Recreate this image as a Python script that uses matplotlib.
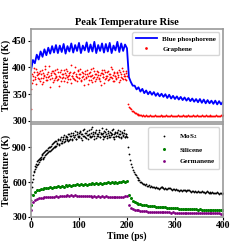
import numpy as np
import matplotlib
matplotlib.use("Agg")
import matplotlib.pyplot as plt

plt.rcParams['font.family'] = ['Liberation Serif', 'DejaVu Serif']
plt.rcParams['font.weight'] = 'bold'
plt.rcParams['axes.labelweight'] = 'bold'
plt.rcParams['mathtext.fontset'] = 'stix'

# time grids (ps)
t4 = np.arange(0, 401, 4)
t2 = np.arange(0, 401, 2)
t_odd = np.arange(1, 200, 2)

blue_phos = [395, 414, 408, 424, 415, 430, 420, 434, 423, 437,
             426, 440, 428, 442, 427, 441, 429, 444, 426, 440,
             430, 445, 428, 442, 431, 446, 427, 441, 432, 447,
             429, 443, 430, 448, 427, 442, 431, 445, 428, 444,
             430, 446, 427, 441, 432, 448, 429, 445, 431, 443,
             436,
             382, 373, 366, 366, 359, 363, 355, 360, 352, 357,
             350, 355, 349, 354, 347, 352, 346, 351, 345, 350,
             343, 349, 342, 347, 341, 346, 340, 345, 339, 344,
             338, 343, 337, 342, 336, 341, 335, 341, 334, 340,
             333, 339, 333, 338, 332, 338, 331, 337, 331, 336]

graphene = [322, 371, 384, 392, 378, 397, 386, 381, 390, 375,
            388, 395, 380, 372, 386, 402, 383, 377, 391, 385,
            364, 389, 380, 394, 376, 387, 383, 398, 379, 385,
            391, 374, 388, 382, 395, 380, 386, 373, 393, 384,
            389, 378, 405, 385, 381, 392, 376, 387, 383, 396,
            380, 388, 374, 391, 385, 379, 394, 382, 387, 370,
            390, 384, 398, 377, 386, 381, 393, 375, 388, 383,
            391, 379, 386, 367, 389, 382, 395, 378, 385, 391,
            376, 388, 383, 400, 380, 386, 374, 392, 384, 379,
            389, 382, 395, 377, 387, 381, 393, 385, 378, 390,
            384,
            331, 327, 324, 322, 319, 318, 316, 315, 314, 313,
            313, 312, 311, 312, 311, 310, 311, 310, 309, 311,
            310, 309, 310, 311, 309, 310, 309, 310, 311, 309,
            310, 309, 310, 309, 311, 310, 309, 310, 309, 310,
            311, 309, 310, 309, 310, 311, 309, 310, 309, 310,
            309, 310, 311, 309, 310, 309, 310, 311, 309, 310,
            310, 309, 310, 311, 309, 310, 309, 310, 311, 309,
            310, 309, 311, 310, 309, 310, 309, 311, 310, 309,
            310, 311, 309, 310, 309, 310, 311, 309, 310, 310,
            309, 310, 311, 309, 310, 309, 310, 311, 310, 311]

# extra graphene samples between the even time steps (t = 1, 3, ..., 199)
graphene_odd = [360, 388, 376, 399, 383, 370, 392, 387, 379, 394,
                381, 369, 390, 384, 397, 376, 388, 382, 403, 379,
                386, 393, 372, 389, 381, 396, 385, 377, 391, 366,
                383, 395, 380, 387, 374, 390, 398, 382, 378, 386,
                392, 371, 384, 389, 379, 401, 385, 375, 393, 381,
                387, 397, 376, 383, 390, 368, 388, 380, 395, 384,
                377, 391, 385, 372, 399, 382, 387, 379, 394, 386,
                381, 375, 390, 396, 383, 388, 371, 392, 380, 385,
                394, 378, 387, 382, 397, 374, 389, 385, 380, 392,
                386, 373, 391, 383, 399, 379, 388, 384, 376, 393]

mos2 = [450, 560, 630, 690, 715, 760, 745, 790, 770, 810,
        795, 830, 805, 850, 820, 865, 840, 880, 855, 900,
        870, 915, 885, 935, 900, 950, 910, 925, 960, 930,
        975, 940, 955, 990, 945, 970, 1000, 960, 985, 950,
        1010, 975, 995, 960, 1020, 985, 1005, 970, 1030, 990,
        1000, 1040, 980, 1015, 995, 1060, 990, 1025, 1005, 970,
        1045, 1000, 1020, 985, 1070, 1010, 995, 1035, 980, 1015,
        1000, 1050, 990, 1025, 1010, 975, 1040, 1000, 1060, 995,
        1020, 985, 1030, 1005, 1050, 990, 1015, 975, 1035, 1000,
        1020, 1045, 990, 1010, 980, 1030, 1000, 1025, 985, 1015,
        990,
        900, 840, 790, 760, 730, 705, 690, 670, 660,
        645, 635, 620, 615, 605, 598, 590, 585, 580, 575,
        580, 570, 565, 572, 560, 566, 555, 562, 558, 550,
        556, 548, 553, 545, 551, 558, 562, 555, 548, 543,
        550, 545, 539, 546, 552, 547, 540, 535, 541, 538,
        533, 540, 536, 530, 527, 534, 529, 525, 531, 536,
        532, 527, 523, 529, 533, 528, 522, 519, 525, 521,
        517, 523, 519, 514, 520, 516, 512, 518, 523, 519,
        514, 510, 516, 520, 513, 508, 514, 509, 505, 511,
        506, 510, 503, 508, 512, 505, 501, 507, 503, 498,
        504]

mos2_odd = [500, 600, 660, 700, 740, 730, 780, 760, 800, 790,
            815, 845, 800, 860, 835, 875, 850, 890, 865, 905,
            880, 925, 895, 945, 915, 900, 955, 935, 970, 920,
            960, 985, 935, 975, 1005, 950, 990, 970, 1010, 965,
            995, 1025, 970, 1005, 985, 1040, 975, 1010, 995, 1020,
            985, 1030, 1010, 965, 1050, 1000, 1020, 980, 1040, 1005,
            1015, 990, 1055, 1000, 1030, 975, 1020, 1045, 995, 1010,
            1030, 985, 1015, 1065, 1000, 1025, 990, 1035, 1010, 980,
            1040, 1005, 990, 1025, 1010, 1055, 985, 1020, 1000, 1035,
            995, 1015, 1040, 985, 1020, 1005, 1050, 990, 1010, 1000]

silicene = [405, 490, 515, 528, 535, 542, 538, 548, 552, 547,
            558, 553, 561, 556, 565, 559, 568, 562, 571, 566,
            574, 569, 577, 572, 580, 575, 583, 577, 585, 579,
            588, 582, 590, 584, 592, 586, 594, 588, 596, 590,
            598, 592, 600, 594, 602, 596, 604, 598, 606, 600,
            610, 490, 460, 440, 428, 420, 416, 410, 407, 402,
            401, 396, 396, 391, 392, 388, 388, 385, 385, 382,
            382, 379, 380, 376, 378, 374, 375, 372, 373, 370,
            371, 368, 370, 367, 368, 365, 367, 364, 365, 363,
            364, 361, 363, 360, 362, 359, 360, 358, 359, 357,
            357]

germanene = [360, 430, 450, 458, 462, 466, 463, 470, 468, 473,
             471, 476, 473, 478, 475, 480, 477, 482, 479, 485,
             481, 488, 483, 486, 480, 484, 479, 483, 477, 482,
             478, 481, 476, 480, 475, 479, 474, 478, 473, 477,
             472, 476, 471, 475, 470, 474, 469, 476, 471, 478,
             482, 400, 380, 370, 364, 360, 358, 354, 353, 350,
             350, 347, 347, 345, 345, 343, 343, 342, 342, 340,
             341, 339, 340, 338, 339, 337, 338, 336, 337, 336,
             336, 335, 336, 334, 335, 334, 334, 333, 334, 333,
             333, 332, 333, 332, 332, 331, 332, 331, 331, 330,
             330]

fig = plt.figure(figsize=(2.48, 2.48), dpi=100)
ax1 = fig.add_axes([0.125, 0.508, 0.774, 0.375])
ax2 = fig.add_axes([0.125, 0.125, 0.774, 0.375])

ax1.plot(t4, blue_phos, color='blue', lw=1.3, label='Blue phosphorene')
ax1.plot(t2, graphene, ls='none', marker='o', ms=1.3, mew=0,
         color='red', label='Graphene')
ax1.plot(t_odd, graphene_odd, ls='none', marker='o', ms=1.3, mew=0,
         color='red')
ax1.set_xlim(0, 400)
ax1.set_ylim(298, 472)
ax1.set_yticks([300, 350, 400, 450])
ax1.set_xticks([])
ax1.set_ylabel('Temperature (K)', fontsize=7, fontweight='bold', labelpad=1)
ax1.set_title('Peak Temperature Rise', fontsize=7.5, fontweight='bold', pad=3)
ax1.legend(loc='upper right', markerscale=1.5, handlelength=3,
           borderpad=0.5, labelspacing=0.6, prop={'weight': 'bold', 'size': 5})

ax2.plot(t2, mos2, ls='none', marker='o', ms=1.3, mew=0, color='black',
         label='MoS$_\\mathbf{2}$')
ax2.plot(t_odd, mos2_odd, ls='none', marker='o', ms=1.3, mew=0, color='black')
ax2.plot(t4, silicene, ls='none', marker='o', ms=2.2, mew=0, color='green',
         label='Silicene')
ax2.plot(t4, germanene, ls='none', marker='o', ms=2.0, mew=0, color='purple',
         label='Germanene')
ax2.set_xlim(0, 400)
ax2.set_ylim(300, 1100)
ax2.set_yticks([300, 600, 900])
ax2.set_xticks([0, 100, 200, 300, 400])
ax2.set_xlabel('Time (ps)', fontsize=7, fontweight='bold', labelpad=1)
ax2.set_ylabel('Temperature (K)', fontsize=7, fontweight='bold', labelpad=1)
ax2.legend(loc='upper right', markerscale=1.0, handlelength=3,
           borderpad=0.7, labelspacing=0.8, prop={'weight': 'bold', 'size': 5})

for ax in (ax1, ax2):
    ax.tick_params(labelsize=7, length=2, width=0.8, pad=1)
    for lab in ax.get_xticklabels() + ax.get_yticklabels():
        lab.set_fontweight('bold')
    for s in ax.spines.values():
        s.set_color('#999999')
        s.set_linewidth(1.2)

fig.savefig('out.png', dpi=100)
